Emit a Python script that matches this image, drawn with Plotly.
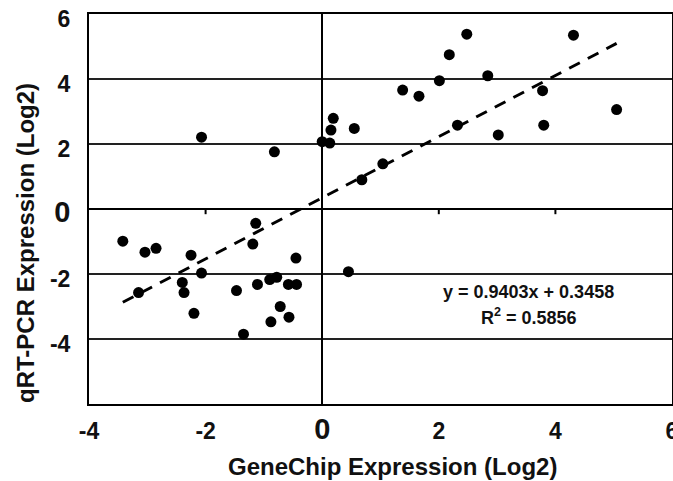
import plotly.graph_objects as go

# GeneChip (x) vs qRT-PCR (y) log2 expression values
genechip = [
    -3.42, -3.04, -2.85, -2.25, -2.07, -3.15, -2.40, -2.37, -2.20,
    -1.14, -1.19, -0.45, -1.47, -1.11, -0.90, -0.78, -0.58, -0.44,
    -0.72, -0.57, -0.88, -1.35, 0.45,
    -2.07, -0.82, 0.00, 0.13, 0.15, 0.19, 0.55, 0.68, 1.04,
    2.48, 2.18, 4.31, 2.84, 2.01, 1.38, 1.66, 3.78, 5.05, 2.32, 3.80, 3.02,
]
qrtpcr = [
    -0.99, -1.33, -1.21, -1.42, -1.97, -2.57, -2.26, -2.57, -3.21,
    -0.44, -1.08, -1.51, -2.51, -2.32, -2.17, -2.10, -2.32, -2.32,
    -3.00, -3.33, -3.47, -3.85, -1.93,
    2.21, 1.76, 2.07, 2.03, 2.43, 2.79, 2.48, 0.90, 1.39,
    5.38, 4.75, 5.35, 4.10, 3.95, 3.66, 3.47, 3.64, 3.06, 2.58, 2.58, 2.28,
]
slope = 0.9403
intercept = 0.3458
r_squared = 0.5856

x_ticks = [-4, -2, 0, 2, 4, 6]
y_ticks = [-4, -2, 0, 2, 4, 6]
x_inner_ticks = [-2, 2, 4]

def tick_text(v):
    if v == 0:
        return '<span style="font-size:29px">0</span>'
    return str(v)

FONT = "Liberation Sans, Arial, sans-serif"

fig = go.Figure()

x_fit = [min(genechip), max(genechip)]
y_fit = [slope * v + intercept for v in x_fit]
fig.add_trace(go.Scatter(
    x=x_fit, y=y_fit, mode="lines",
    line=dict(color="black", width=3, dash="12px,9px"),
    hoverinfo="skip", showlegend=False,
))
fig.add_trace(go.Scatter(
    x=genechip, y=qrtpcr, mode="markers",
    marker=dict(color="black", size=11),
    showlegend=False,
))

# small tick marks on the zero line
for t in x_inner_ticks:
    fig.add_shape(type="line", xref="x", yref="y", x0=t, x1=t, y0=0, y1=-0.16,
                  line=dict(color="black", width=2))

fig.add_annotation(
    x=3.54, y=-2.55, xref="x", yref="y", xanchor="center", yanchor="middle",
    text=f"y = {slope}x + {intercept}", showarrow=False,
    font=dict(family=FONT, size=18, color="#111", weight="bold"),
)
fig.add_annotation(
    x=3.54, y=-3.32, xref="x", yref="y", xanchor="center", yanchor="middle",
    text=f"R<sup>2</sup> = {r_squared}", showarrow=False,
    font=dict(family=FONT, size=18, color="#111", weight="bold"),
)
fig.add_annotation(
    x=0.521, y=-0.1615, xref="paper", yref="paper", xanchor="center", yanchor="middle",
    text="GeneChip Expression (Log2)", showarrow=False,
    font=dict(family=FONT, size=24, color="#111", weight="bold"),
)
fig.add_annotation(
    x=-0.108, y=0.413, xref="paper", yref="paper", xanchor="center", yanchor="middle",
    textangle=-90,
    text="qRT-PCR Expression (Log2)", showarrow=False,
    font=dict(family=FONT, size=24, color="#111", weight="bold"),
)

fig.update_layout(
    width=673, height=481,
    margin=dict(l=89, r=1, t=14, b=77, autoexpand=False),
    paper_bgcolor="white", plot_bgcolor="white",
    font=dict(family=FONT, size=23, color="#111", weight="bold"),
    xaxis=dict(
        range=[-4, 6], tickvals=x_ticks, ticktext=[tick_text(v) for v in x_ticks],
        showgrid=False, zeroline=True, zerolinecolor="black", zerolinewidth=2,
        showline=True, mirror=True, linecolor="black", linewidth=2,
        ticks="", ticklabelstandoff=5, automargin=False, ticklabeloverflow="allow",
    ),
    yaxis=dict(
        range=[-6, 6], tickvals=y_ticks, ticktext=[tick_text(v) for v in y_ticks],
        showgrid=True, gridcolor="#222", gridwidth=2,
        zeroline=True, zerolinecolor="black", zerolinewidth=2,
        showline=True, mirror=True, linecolor="black", linewidth=2,
        ticks="", ticklabelstandoff=12, automargin=False, ticklabeloverflow="allow",
        ticklabelshift=5,
    ),
)

# remove the page's default body margin so the figure fills the window exactly
fig.write_html(
    "out.html",
    config={"displayModeBar": False},
    post_script="document.body.style.margin='0';document.body.style.overflow='hidden';",
)
